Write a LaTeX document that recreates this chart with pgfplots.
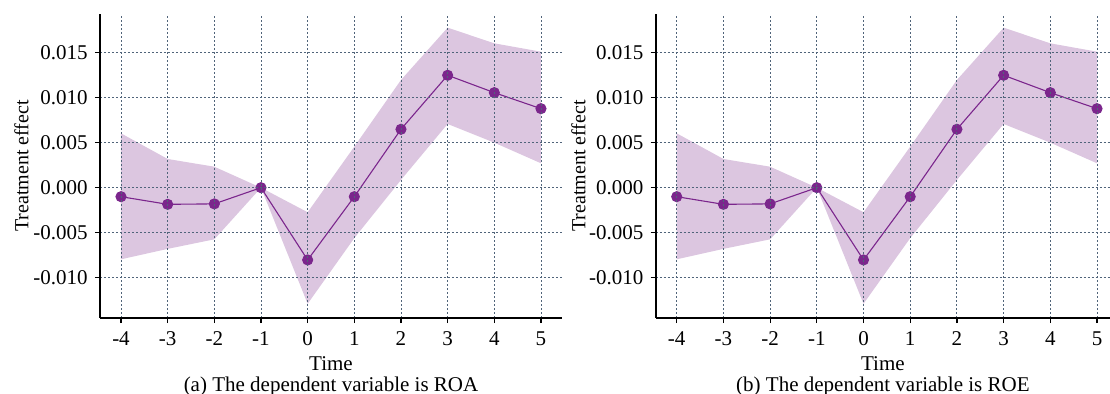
\documentclass[border=0pt]{standalone}
\usepackage{pgfplots}
\usepackage{pgfplotstable}
\pgfplotsset{compat=1.18}
\usepackage{fontspec}
\setmainfont{Liberation Serif}
\usepgfplotslibrary{fillbetween}

\definecolor{lineC}{RGB}{123,38,140}
\definecolor{bandC}{RGB}{128,50,145}
\definecolor{gridC}{RGB}{80,100,122}

\pgfplotstableread{
t    est      lo        hi
-4  -0.0010  -0.00796  0.00604
-3  -0.00185 -0.00680  0.00319
-2  -0.00180 -0.00574  0.00233
-1   0.0000   0.0000   0.0000
0   -0.00803 -0.01290 -0.00273
1   -0.00100 -0.00560  0.00456
2    0.00649  0.00086  0.01197
3    0.01249  0.00708  0.01778
4    0.01056  0.00500  0.01604
5    0.00878  0.00271  0.01511
}\datatab

\pgfplotsset{
  panel/.style={
    scale only axis,
    height=152pt,
    xmin=-4.45, ymin=-0.01448, ymax=0.0193,
    axis lines*=left,
    axis line style={line width=0.8pt, black},
    xtick={-4,-3,-2,-1,0,1,2,3,4,5},
    ytick={-0.010,-0.005,0,0.005,0.010,0.015},
    scaled y ticks=false,
    yticklabel style={/pgf/number format/.cd, fixed, fixed zerofill, precision=3, assume math mode=true},
    xticklabel style={/pgf/number format/assume math mode=true, yshift=-0.8pt},
    tick style={black, line width=0.6pt},
    tick align=outside,
    major tick length=2.6pt,
    grid=major,
    major grid style={gridC, dashed, line width=0.45pt, dash pattern=on 1.2pt off 0.8pt},
    axis on top,
    tick label style={font=\fontsize{10.5}{12}\selectfont},
    label style={font=\fontsize{10.5}{10.5}\selectfont},
    ylabel={Treatment effect},
    every axis y label/.style={at={(axis description cs:-0.17,0.5)}, rotate=90, anchor=center},
    xlabel style={align=center, anchor=north, at={(axis description cs:0.5,0)}, yshift=-16pt},
    clip=false,
  }
}

\begin{document}
\begin{tikzpicture}
\begin{axis}[panel, width=231pt, xmax=5.45, at={(0pt,0pt)}, anchor=south west,
  xlabel={Time\\(a) The dependent variable is ROA}]
  \addplot[name path=hiA, draw=none, forget plot] table[x=t, y=hi] {\datatab};
  \addplot[name path=loA, draw=none, forget plot] table[x=t, y=lo] {\datatab};
  \addplot[bandC, fill opacity=0.28, draw=none] fill between[of=hiA and loA];
  \addplot[lineC, line width=0.55pt, mark=*, mark size=2.5pt, mark options={fill=lineC, draw=lineC}] table[x=t, y=est] {\datatab};
\end{axis}
\begin{axis}[panel, width=227.2pt, xmax=5.28, at={(277.85pt,0pt)}, anchor=south west,
  xlabel={Time\\(b) The dependent variable is ROE}]
  \addplot[name path=hiB, draw=none, forget plot] table[x=t, y=hi] {\datatab};
  \addplot[name path=loB, draw=none, forget plot] table[x=t, y=lo] {\datatab};
  \addplot[bandC, fill opacity=0.28, draw=none] fill between[of=hiB and loB];
  \addplot[lineC, line width=0.55pt, mark=*, mark size=2.5pt, mark options={fill=lineC, draw=lineC}] table[x=t, y=est] {\datatab};
\end{axis}
\pgfresetboundingbox
\useasboundingbox (-50pt,-38pt) rectangle (505pt,159pt);
\end{tikzpicture}
\end{document}
